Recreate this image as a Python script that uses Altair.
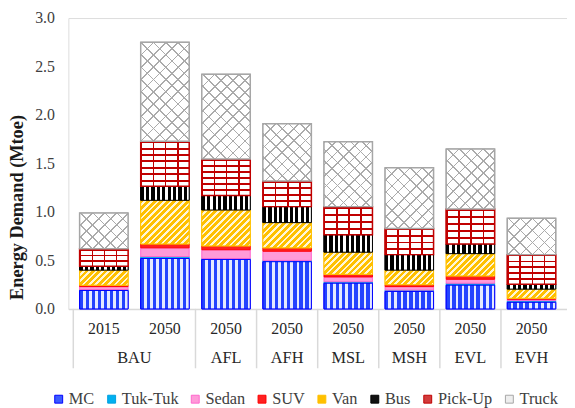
import altair as alt
import pandas as pd

# ---------------- data ----------------
scenarios = ["BAU", "BAU", "AFL", "AFH", "MSL", "MSH", "EVL", "EVH"]
years = ["2015", "2050", "2050", "2050", "2050", "2050", "2050", "2050"]
vehicles = ["MC", "Tuk-Tuk", "Sedan", "SUV", "Van", "Bus", "Pick-Up", "Truck"]

mc = [0.19, 0.52, 0.51, 0.487, 0.265, 0.18, 0.245, 0.068]
tuktuk = [0.01, 0.02, 0.01, 0.013, 0.015, 0.014, 0.02, 0.017]
sedan = [0.03, 0.09, 0.09, 0.095, 0.05, 0.036, 0.041, 0.015]
suv = [0.015, 0.04, 0.04, 0.035, 0.027, 0.02, 0.034, 0.01]
van = [0.155, 0.45, 0.37, 0.26, 0.228, 0.15, 0.23, 0.094]
bus = [0.04, 0.145, 0.15, 0.165, 0.18, 0.16, 0.10, 0.051]
pickup = [0.18, 0.465, 0.375, 0.265, 0.29, 0.27, 0.36, 0.305]
truck = [0.37, 1.02, 0.875, 0.59, 0.67, 0.626, 0.62, 0.375]

series = {"MC": mc, "Tuk-Tuk": tuktuk, "Sedan": sedan, "SUV": suv,
          "Van": van, "Bus": bus, "Pick-Up": pickup, "Truck": truck}

legend_fill = ["#3a5cff", "#00b0f0", "#ff9ad8", "#ff2020", "#ffc000", "#111111", "#d23c3c", "#eeeeee"]
legend_stroke = ["#0000ff", "#00a0e0", "#ff66cc", "#ff0000", "#ffc000", "#000000", "#c00000", "#a6a6a6"]

rows = []
for i, (s, y) in enumerate(zip(scenarios, years)):
    for k, v in enumerate(vehicles):
        rows.append(dict(pos=i, scen=s, year=y, veh=v, order=k, value=series[v][i]))
df = pd.DataFrame(rows)
bars_df = pd.DataFrame(dict(pos=list(range(len(scenarios))), scen=scenarios, year=years))
bounds = [-0.5] + [i - 0.5 for i in range(1, len(scenarios)) if scenarios[i] != scenarios[i - 1]]
bounds_df = pd.DataFrame(dict(b=bounds))

# ---------------- layout ----------------
W, H = 504, 294
BAR = 49
YMAX = 3.0
PX = H / YMAX
FONT = "Liberation Serif"

xscale = alt.Scale(domain=[-0.5, len(scenarios) - 0.5], nice=False, zero=False)
xaxis = alt.Axis(labels=False, ticks=False, grid=False, domainColor="#d9d9d9",
                 domainWidth=1.5, title=None)


def X(field):
    return alt.X(field, type="quantitative", scale=xscale, axis=xaxis)


Y0 = alt.Y("y0:Q", scale=alt.Scale(domain=[0, YMAX], nice=False),
           axis=alt.Axis(values=[0, 0.5, 1.0, 1.5, 2.0, 2.5, 3.0], format=".1f", grid=False,
                         domain=False, ticks=False, labelPadding=14, labelFont=FONT,
                         labelFontSize=16, labelColor="#404040",
                         title="Energy Demand (Mtoe)", titleFont=FONT, titleFontSize=18.5,
                         titleFontWeight="bold", titleColor="#1a1a1a", titleAngle=270,
                         titleX=-46, titleY=191, titleAlign="center",
                         titleBaseline="alphabetic"))

stacked = alt.Chart(df).transform_stack(
    stack="value", groupby=["pos"], sort=[alt.SortField("order", "ascending")],
    as_=["y0", "y1"])


def stops_for(c1, c2, n, frac):
    st = []
    for k in range(n):
        st += [alt.GradientStop(color=c1, offset=k / n),
               alt.GradientStop(color=c1, offset=(k + frac) / n),
               alt.GradientStop(color=c2, offset=(k + frac) / n),
               alt.GradientStop(color=c2, offset=(k + 1) / n)]
    return st


def vstripes(c1, c2, n, frac):
    return alt.Gradient(gradient="linear", x1=0, y1=0, x2=1, y2=0, stops=stops_for(c1, c2, n, frac))


def hstripes(c1, c2, n, frac):
    return alt.Gradient(gradient="linear", x1=0, y1=0, x2=0, y2=1, stops=stops_for(c1, c2, n, frac))


def diag(c1, c2, period, frac, h, up=True):
    r = max(h, 1) / BAR
    x2 = (1 + r) / (1 + r * r)
    y2 = x2 * r
    n = max(1, round((BAR + h) / period))
    if up:
        return alt.Gradient(gradient="linear", x1=0, y1=0, x2=x2, y2=y2,
                            stops=stops_for(c1, c2, n, frac))
    return alt.Gradient(gradient="linear", x1=0, y1=1, x2=x2, y2=1 - y2,
                        stops=stops_for(c1, c2, n, frac))


def seg(expr, fill, stroke=None, sw=1.0):
    kw = dict(size=BAR, fill=fill)
    if stroke:
        kw.update(stroke=stroke, strokeWidth=sw)
    else:
        kw.update(strokeWidth=0)
    return stacked.transform_filter(expr).mark_bar(**kw).encode(x=X("pos"), y=Y0, y2="y1:Q")


TR = "rgba(255,255,255,0)"

layers = []
# separators of the category table
layers.append(alt.Chart(bounds_df).mark_rule(color="#d9d9d9", strokeWidth=1.5).encode(
    x=X("b"), y=alt.value(H), y2=alt.value(H + 60)))

leg = alt.Legend(title=None, orient="none", direction="horizontal",
                 legendX=-18, legendY=377, symbolType="square",
                 symbolSize=64, symbolStrokeWidth=1, labelOffset=2,
                 columnPadding=8.5, labelFont=FONT, labelFontSize=16.5,
                 labelColor="#404040", labelLimit=0, gridAlign="none")

# base solid bars (legend)
base = stacked.mark_bar(size=BAR, strokeWidth=1).encode(
    x=X("pos"), y=Y0, y2="y1:Q",
    fill=alt.Fill("veh:N", scale=alt.Scale(domain=vehicles, range=legend_fill),
                  sort=vehicles, legend=leg),
    stroke=alt.Stroke("veh:N", scale=alt.Scale(domain=vehicles, range=legend_stroke),
                      sort=vehicles, legend=leg),
)
layers.append(base)

# MC: blue dotted columns
layers.append(seg("datum.veh == 'MC'", vstripes("#2443ff", "#e4e9ff", 8, 0.55), "#0000ff"))
# Van: golden diagonal stripes
for i in range(len(scenarios)):
    h = van[i] * PX
    layers.append(seg(f"datum.veh == 'Van' && datum.pos == {i}",
                      diag("#ffc000", "#fff6d8", 6.5, 0.6, h, up=True), "#ffc000"))
# Bus: black checker
layers.append(seg("datum.veh == 'Bus'", vstripes("#000000", "#ffffff", 9, 0.6), "#000000"))
# Pick-Up: red brick
for i in range(len(scenarios)):
    h = pickup[i] * PX
    n = max(2, round(h / 6.5))
    layers.append(seg(f"datum.veh == 'Pick-Up' && datum.pos == {i}",
                      hstripes("#c00000", "#ffffff", n, 0.3)))
    layers.append(seg(f"datum.veh == 'Pick-Up' && datum.pos == {i}",
                      vstripes("#c00000", TR, 4, 0.12), "#c00000", 1.5))
# Truck: grey lattice
for i in range(len(scenarios)):
    h = truck[i] * PX
    layers.append(seg(f"datum.veh == 'Truck' && datum.pos == {i}",
                      diag("#ababab", "#ffffff", 12, 0.14, h, up=True)))
    layers.append(seg(f"datum.veh == 'Truck' && datum.pos == {i}",
                      diag("#ababab", TR, 12, 0.14, h, up=False), "#a6a6a6", 1.5))

# category labels
layers.append(alt.Chart(bars_df).mark_text(font=FONT, fontSize=16, color="#262626",
                                           baseline="middle").encode(
    x=X("pos"), y=alt.value(H + 20), text="year:N"))
layers.append(alt.Chart(bars_df).transform_aggregate(
    c="mean(pos)", groupby=["scen"]).mark_text(font=FONT, fontSize=16.5, color="#262626",
                                               baseline="middle").encode(
    x=X("c"), y=alt.value(H + 50), text="scen:N"))

chart = alt.layer(*layers).properties(
    width=W, height=H, autosize="none",
    padding={"left": 61, "top": 8, "right": 0, "bottom": 98},
).configure_view(stroke=None).configure(background="white")

chart.save("out.html", embed_options={"renderer": "svg", "actions": False})
